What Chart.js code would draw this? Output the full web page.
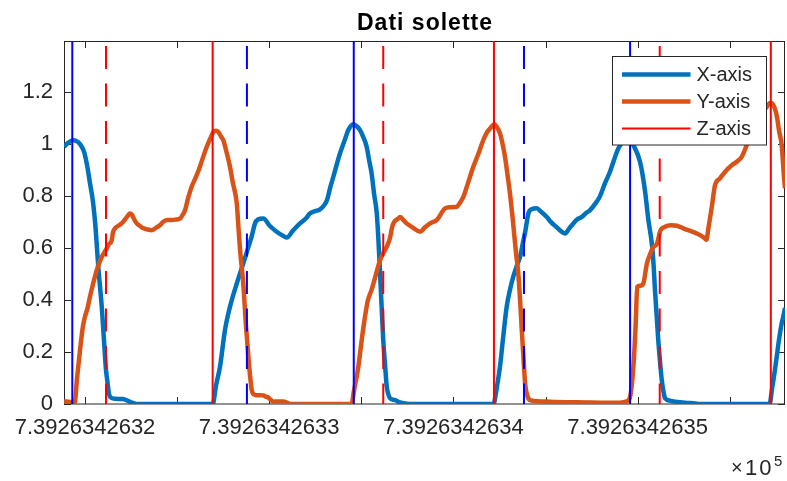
<!DOCTYPE html>
<html>
<head>
<meta charset="utf-8">
<script src="https://cdn.jsdelivr.net/npm/chart.js@4/dist/chart.umd.min.js"></script>
<style>
  html, body { margin: 0; padding: 0; background: #fff; overflow: hidden; }
  canvas { display: block; }
</style>
</head>
<body>
<canvas id="c" width="787" height="481"></canvas>
<script>
// Time axis: offset in units of the last label digit (1e-10, shown ×10^5)
const xTickValues = [0, 0.5, 1, 1.5, 2, 2.5, 3, 3.5];
const xTickLabels = ['7.3926342632', '', '7.3926342633', '', '7.3926342634', '', '7.3926342635', ''];
const yTickValues = [0, 0.2, 0.4, 0.6, 0.8, 1, 1.2];
const xLimits = [-0.114, 3.800];
const yLimits = [0, 1.397];

const chartTitle = 'Dati solette';
const exponentBase = '10';
const exponentPower = '5';

// X-axis sensor trace
const tX = [-0.114,-0.092,-0.065,-0.038,-0.022,-0.005,0.011,0.027,0.043,0.057,
  0.065,0.073,0.091,0.103,0.114,0.122,0.130,0.138,0.163,0.206,
  0.233,0.255,0.282,0.692,0.697,0.711,0.733,0.760,0.787,0.824,
  0.859,0.885,0.905,0.923,0.939,0.968,1.004,1.037,1.069,1.095,
  1.131,1.167,1.200,1.221,1.249,1.276,1.298,1.314,1.330,1.348,
  1.384,1.412,1.429,1.457,1.477,1.493,1.509,1.529,1.542,1.556,
  1.569,1.584,1.593,1.602,1.610,1.619,1.629,1.638,1.648,1.656,
  1.683,1.710,1.764,2.218,2.223,2.237,2.253,2.269,2.289,2.307,
  2.325,2.343,2.362,2.380,2.389,2.407,2.427,2.452,2.476,2.507,
  2.530,2.561,2.584,2.606,2.628,2.651,2.671,2.697,2.720,2.742,
  2.769,2.796,2.823,2.850,2.877,2.895,2.915,2.937,2.959,2.977,
  3.013,3.040,3.058,3.077,3.085,3.094,3.112,3.122,3.131,3.141,
  3.149,3.176,3.194,3.257,3.312,3.339,3.716,3.730,3.741,3.755,
  3.768,3.782,3.795,3.800];
const valX = [0.99,1.005,1.015,1.008,0.995,0.97,0.92,0.85,0.78,0.68,
  0.60,0.52,0.374,0.246,0.131,0.085,0.04,0.026,0.02,0.019,
  0.012,0.005,0,0,0.005,0.07,0.144,0.285,0.374,0.464,
  0.54,0.60,0.645,0.695,0.71,0.714,0.685,0.665,0.65,0.641,
  0.669,0.695,0.715,0.733,0.742,0.749,0.765,0.785,0.83,0.874,
  0.964,1.02,1.054,1.077,1.068,1.054,1.03,0.99,0.94,0.887,
  0.81,0.733,0.63,0.50,0.38,0.246,0.15,0.067,0.035,0.022,
  0.015,0.006,0,0,0.01,0.07,0.144,0.25,0.374,0.44,
  0.49,0.53,0.567,0.63,0.66,0.733,0.75,0.753,0.74,0.72,
  0.70,0.68,0.665,0.656,0.675,0.695,0.71,0.72,0.735,0.746,
  0.77,0.80,0.85,0.894,0.95,0.983,1.005,1.018,1.015,0.996,
  0.932,0.82,0.71,0.618,0.554,0.44,0.246,0.16,0.092,0.045,
  0.022,0.013,0.01,0.005,0.002,0,0,0.06,0.11,0.182,
  0.25,0.31,0.35,0.37];

// Y-axis sensor trace
const tY = [-0.114,-0.081,-0.065,-0.057,-0.043,-0.027,-0.011,0,0.014,0.027,
  0.043,0.064,0.081,0.098,0.118,0.130,0.145,0.152,0.163,0.179,
  0.199,0.217,0.233,0.244,0.255,0.266,0.281,0.299,0.317,0.337,
  0.362,0.385,0.407,0.423,0.444,0.472,0.494,0.516,0.532,0.543,
  0.559,0.579,0.603,0.624,0.641,0.661,0.679,0.697,0.711,0.724,
  0.738,0.751,0.768,0.787,0.803,0.824,0.833,0.841,0.859,0.874,
  0.887,0.896,0.905,0.912,0.923,0.950,0.968,0.983,0.995,1.010,
  1.022,1.048,1.077,1.097,1.113,1.447,1.460,1.484,1.501,1.520,
  1.536,1.556,1.580,1.602,1.619,1.638,1.656,1.667,1.678,1.701,
  1.710,1.726,1.746,1.781,1.819,1.846,1.873,1.909,1.927,1.954,
  1.982,2.018,2.036,2.054,2.079,2.108,2.134,2.162,2.182,2.199,
  2.222,2.237,2.253,2.267,2.280,2.294,2.307,2.321,2.329,2.340,
  2.352,2.362,2.371,2.381,2.389,2.400,2.416,2.470,2.552,2.615,
  2.724,2.796,2.904,2.941,2.959,2.977,2.989,2.998,3.013,3.031,
  3.050,3.067,3.085,3.104,3.112,3.122,3.149,3.181,3.214,3.248,
  3.285,3.321,3.357,3.374,3.384,3.403,3.420,3.447,3.475,3.511,
  3.538,3.565,3.592,3.616,3.643,3.670,3.697,3.719,3.732,3.755,
  3.768,3.782,3.795,3.800];
const valY = [0.01,0.008,0.005,0,0.1,0.208,0.30,0.336,0.37,0.413,
  0.46,0.515,0.55,0.575,0.599,0.615,0.63,0.66,0.676,0.685,
  0.695,0.71,0.725,0.733,0.728,0.712,0.695,0.685,0.676,0.672,
  0.669,0.678,0.688,0.70,0.708,0.708,0.71,0.714,0.73,0.746,
  0.79,0.836,0.875,0.913,0.95,0.99,1.02,1.047,1.052,1.047,
  1.03,1.015,0.97,0.913,0.85,0.772,0.68,0.60,0.464,0.30,
  0.182,0.11,0.054,0.04,0.035,0.034,0.033,0.028,0.025,0.015,
  0.009,0.01,0.01,0.005,0,0,0.05,0.144,0.24,0.336,
  0.40,0.44,0.50,0.554,0.58,0.605,0.64,0.68,0.70,0.714,
  0.72,0.71,0.695,0.678,0.663,0.68,0.695,0.708,0.725,0.753,
  0.757,0.759,0.775,0.797,0.85,0.913,0.96,1.015,1.045,1.06,
  1.077,1.065,1.041,1.0,0.951,0.88,0.81,0.72,0.66,0.58,
  0.503,0.40,0.285,0.17,0.08,0.035,0.015,0.01,0.008,0.007,
  0.006,0.005,0.005,0.01,0.028,0.144,0.30,0.451,0.455,0.464,
  0.54,0.575,0.605,0.615,0.635,0.665,0.682,0.688,0.686,0.676,
  0.666,0.656,0.642,0.632,0.676,0.76,0.842,0.868,0.894,0.919,
  0.932,0.951,0.996,1.04,1.08,1.115,1.14,1.158,1.155,1.11,
  1.05,0.996,0.87,0.83];

// Event markers (vertical lines)
const blueSolidAt = [-0.069, 1.459, 2.959];
const redDashedAt = [0.114, 1.619, 3.120];
const redSolidAt = [0.693, 2.220, 3.723];
const blueDashedAt = [0.879, 2.383];

const FONT = '"Liberation Sans", Arial, Helvetica, sans-serif';
const AXIS = '#262626';
const C_X = '#0072BD', C_Y = '#D95319', C_RED = '#FF0000', C_BLUE = '#0000FF';
const DASH = [23, 14.5];

const pairs = (ts, vs) => ts.map((t, i) => ({ x: t, y: vs[i] }));

function vline(at, color, dashed, label) {
  return {
    label: label,
    data: [{ x: at, y: yLimits[1] }, { x: at, y: yLimits[0] }],
    borderColor: color,
    borderWidth: 2,
    borderDash: dashed ? DASH : [],
    borderDashOffset: dashed ? 32.5 : 0,
    pointRadius: 0,
    tension: 0,
    order: 0
  };
}

const datasets = [
  {
    label: 'X-axis', data: pairs(tX, valX), borderColor: C_X, borderWidth: 4.5,
    pointRadius: 0, cubicInterpolationMode: 'monotone', borderJoinStyle: 'round', order: 2
  },
  {
    label: 'Y-axis', data: pairs(tY, valY), borderColor: C_Y, borderWidth: 4.5,
    pointRadius: 0, cubicInterpolationMode: 'monotone', borderJoinStyle: 'round', order: 1
  }
];
redSolidAt.forEach((v, i) => datasets.push(vline(v, C_RED, false, i === 0 ? 'Z-axis' : undefined)));
blueSolidAt.forEach(v => datasets.push(vline(v, C_BLUE, false)));
redDashedAt.forEach(v => datasets.push(vline(v, C_RED, true)));
blueDashedAt.forEach(v => datasets.push(vline(v, C_BLUE, true)));

const frame = {
  id: 'frame',
  beforeDraw(chart) {
    const { ctx, width, height } = chart;
    ctx.save();
    ctx.fillStyle = '#ffffff';
    ctx.fillRect(0, 0, width, height);
    ctx.restore();
  },
  beforeDatasetsDraw(chart) {
    const { ctx, chartArea: a, scales: { x, y } } = chart;
    ctx.save();
    ctx.strokeStyle = AXIS;
    ctx.lineWidth = 1;
    ctx.strokeRect(a.left + 0.5, a.top + 0.5, a.right - a.left - 1, a.bottom - a.top - 0.5);
    const tl = 7;
    ctx.beginPath();
    xTickValues.forEach(v => {
      const px = Math.round(x.getPixelForValue(v)) + 0.5;
      ctx.moveTo(px, a.bottom); ctx.lineTo(px, a.bottom - tl);
      ctx.moveTo(px, a.top); ctx.lineTo(px, a.top + tl);
    });
    yTickValues.forEach(v => {
      const py = Math.round(y.getPixelForValue(v)) + 0.5;
      ctx.moveTo(a.left, py); ctx.lineTo(a.left + tl, py);
      ctx.moveTo(a.right, py); ctx.lineTo(a.right - tl, py);
    });
    ctx.stroke();
    ctx.restore();
  },
  afterDraw(chart) {
    const { ctx, chartArea: a } = chart;
    ctx.save();
    // title
    ctx.fillStyle = '#000000';
    ctx.font = 'bold 23px ' + FONT;
    ctx.textAlign = 'center';
    ctx.textBaseline = 'alphabetic';
    if ('letterSpacing' in ctx) ctx.letterSpacing = '1px';
    ctx.fillText(chartTitle, (a.left + a.right) / 2 + 0.5, 30);
    if ('letterSpacing' in ctx) ctx.letterSpacing = '0px';

    // legend
    const bx = a.right - 172.5, by = a.top + 15.5, bw = 154, bh = 88.5;
    ctx.fillStyle = '#ffffff';
    ctx.fillRect(bx, by, bw, bh);
    ctx.strokeStyle = AXIS;
    ctx.lineWidth = 1;
    ctx.strokeRect(bx, by, bw, bh);
    const entries = chart.data.datasets.filter(d => d.label);
    ctx.font = '20px ' + FONT;
    ctx.textAlign = 'left';
    ctx.textBaseline = 'middle';
    entries.forEach((d, i) => {
      const ly = by + 18 + i * 27;
      ctx.beginPath();
      ctx.strokeStyle = d.borderColor;
      ctx.lineWidth = d.borderWidth;
      ctx.moveTo(bx + 9.5, ly); ctx.lineTo(bx + 78, ly);
      ctx.stroke();
      ctx.fillStyle = AXIS;
      ctx.fillText(d.label, bx + 84, ly + 1);
    });

    // axis exponent
    ctx.fillStyle = AXIS;
    ctx.textBaseline = 'alphabetic';
    ctx.font = '20px ' + FONT;
    ctx.fillText('\u00d7', 731, 474);
    ctx.font = '22px ' + FONT;
    if ('letterSpacing' in ctx) ctx.letterSpacing = '2px';
    ctx.fillText(exponentBase, 745, 475);
    if ('letterSpacing' in ctx) ctx.letterSpacing = '0px';
    ctx.font = '15px ' + FONT;
    ctx.fillText(exponentPower, 774, 466);
    ctx.restore();
  }
};

new Chart(document.getElementById('c'), {
  type: 'line',
  data: { datasets },
  plugins: [frame],
  options: {
    responsive: false,
    devicePixelRatio: 1,
    animation: false,
    events: [],
    layout: { padding: { top: 41, right: 2, bottom: 0, left: 0 } },
    plugins: { legend: { display: false }, tooltip: { enabled: false }, title: { display: false } },
    scales: {
      x: {
        type: 'linear',
        min: xLimits[0],
        max: xLimits[1],
        grid: { display: false, drawTicks: false },
        border: { display: false },
        afterBuildTicks: s => { s.ticks = xTickValues.map(v => ({ value: v })); },
        afterFit: s => { s.height = 77; },
        ticks: {
          autoSkip: false,
          maxRotation: 0,
          padding: 11,
          color: AXIS,
          font: { family: FONT, size: 22 },
          callback: (v) => {
            const i = xTickValues.indexOf(v);
            return i >= 0 ? xTickLabels[i] : '';
          }
        }
      },
      y: {
        type: 'linear',
        min: yLimits[0],
        max: yLimits[1],
        grid: { display: false, drawTicks: false },
        border: { display: false },
        afterBuildTicks: s => { s.ticks = yTickValues.map(v => ({ value: v })); },
        afterFit: s => { s.width = 64; },
        ticks: {
          padding: 11,
          color: AXIS,
          font: { family: FONT, size: 22 },
          callback: (v) => String(Math.round(v * 10) / 10)
        }
      }
    }
  }
});
</script>
</body>
</html>
